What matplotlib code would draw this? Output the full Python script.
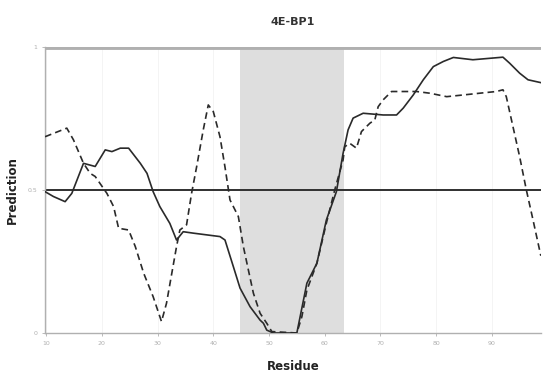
import numpy as np
import matplotlib.pyplot as plt

# residue / prediction values
solid_res = [9.8, 11.3, 13.4, 14.6, 16.7, 18.8, 20.6, 21.8, 23.3, 24.8, 26.9, 28.1,
             29.2, 30.4, 32.2, 33.4, 34.6, 36.4, 41.2, 42.1, 43.6, 44.8, 46.6, 48.4,
             49.0, 49.6, 50.8, 55.0, 56.8, 58.6, 60.3, 62.1, 63.3, 64.2, 65.1, 66.9,
             70.5, 72.9, 74.1, 75.9, 77.7, 79.5, 81.3, 83.1, 86.6, 92.0, 93.2, 95.0,
             96.5, 98.8]
solid_val = [0.494, 0.477, 0.459, 0.488, 0.593, 0.582, 0.640, 0.634, 0.646, 0.646, 0.593, 0.558,
             0.494, 0.442, 0.383, 0.325, 0.354, 0.349, 0.337, 0.325, 0.232, 0.157, 0.092, 0.045,
             0.034, 0.010, 0.0, 0.0, 0.174, 0.244, 0.395, 0.494, 0.628, 0.710, 0.751, 0.768,
             0.762, 0.762, 0.786, 0.832, 0.885, 0.931, 0.949, 0.963, 0.955, 0.964, 0.943, 0.908,
             0.885, 0.875]

dash_res = [9.8, 13.7, 14.9, 16.7, 17.9, 18.8, 20.9, 22.1, 23.0, 24.8, 26.0, 27.5,
            29.2, 30.7, 31.6, 33.4, 34.0, 35.2, 36.1, 37.0, 38.2, 39.1, 40.0, 41.2,
            42.1, 43.0, 44.5, 45.4, 46.3, 47.2, 48.4, 49.6, 50.5, 55.0, 55.9, 56.8,
            58.6, 60.3, 61.8, 63.3, 63.6, 64.5, 65.7, 66.6, 68.1, 69.0, 69.6, 70.5,
            72.0, 76.5, 78.9, 81.9, 84.9, 87.8, 90.8, 92.0, 92.6, 93.8, 95.0, 96.2,
            97.4, 98.8]
dash_val = [0.686, 0.716, 0.675, 0.593, 0.558, 0.547, 0.488, 0.442, 0.366, 0.360, 0.302, 0.209,
            0.127, 0.040, 0.104, 0.302, 0.360, 0.378, 0.488, 0.580, 0.710, 0.797, 0.774, 0.686,
            0.580, 0.465, 0.407, 0.302, 0.220, 0.139, 0.069, 0.034, 0.005, 0.0, 0.057, 0.150,
            0.244, 0.384, 0.500, 0.605, 0.651, 0.663, 0.646, 0.704, 0.733, 0.745, 0.791, 0.815,
            0.844, 0.844, 0.838, 0.826, 0.832, 0.838, 0.844, 0.850, 0.826, 0.721, 0.616, 0.500,
            0.395, 0.270]

region = (44.8, 63.5)
threshold = 0.5
x_ticks = [10, 20, 30, 40, 50, 60, 70, 80, 90]

fig = plt.figure(figsize=(5.43, 3.75), dpi=100)
ax = fig.add_axes([0.083, 0.112, 0.913, 0.763])

for t in x_ticks:
    ax.axvline(t, color='#f2f2f2', lw=0.6, zorder=0)
ax.axvspan(region[0], region[1], color='#dedede', lw=0, zorder=0.5)
ax.axhline(1.0, color='#b0b0b0', lw=3.5, zorder=1)
ax.axhline(threshold, color='#303030', lw=1.4, zorder=2)

ax.plot(solid_res, solid_val, color='#2a2a2a', lw=1.2, zorder=3)
ax.plot(dash_res, dash_val, color='#2a2a2a', lw=1.2, linestyle=(0, (4, 2.5)), zorder=3)

ax.set_xlim(9.8, 98.8)
ax.set_ylim(0, 1.0)
ax.set_xticks(x_ticks)
ax.set_yticks([0, 0.5, 1])
ax.set_yticklabels(['0', '0.5', '1'])
ax.tick_params(labelsize=4.5, colors='#b0b0b0', length=2, width=0.6)

for s in ['top', 'right']:
    ax.spines[s].set_visible(False)
for s in ['left', 'bottom']:
    ax.spines[s].set_color('#b0b0b0')
    ax.spines[s].set_linewidth(1.0)

ax.set_title('4E-BP1', fontsize=8, fontweight='bold', color='#333333', pad=16)
ax.set_xlabel('Residue', fontsize=8.5, fontweight='bold', color='#222222', labelpad=10)
ax.set_ylabel('Prediction', fontsize=8.5, fontweight='bold', color='#222222', labelpad=6)

fig.savefig('out.png', dpi=100)
